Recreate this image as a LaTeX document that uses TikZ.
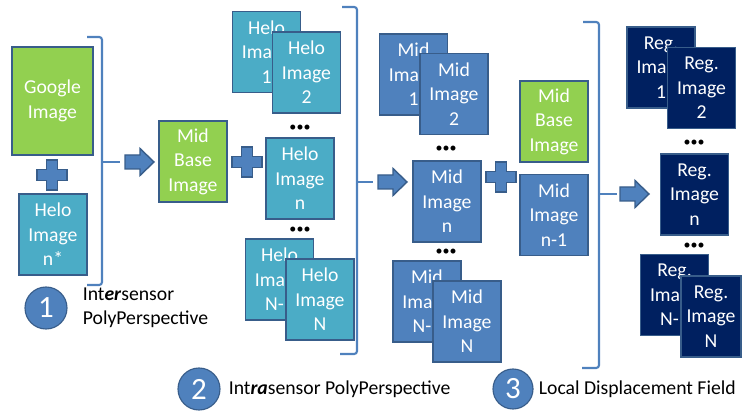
\documentclass[tikz,border=0pt]{standalone}
\usepackage{fontspec}
\setmainfont{Carlito}
\usetikzlibrary{positioning}

\definecolor{leaf}{HTML}{92D050}
\definecolor{aqua}{HTML}{4BACC6}
\definecolor{steel}{HTML}{4F81BD}
\definecolor{navy}{HTML}{002060}
\definecolor{edge}{HTML}{385D8A}

\tikzset{
    plussign/.pic={
        \draw[solid shape] (-5.5,-15) -- (5.5,-15) -- (5.5,-5.5) -- (15,-5.5) -- (15,5.5) -- (5.5,5.5)
            -- (5.5,15) -- (-5.5,15) -- (-5.5,5.5) -- (-15,5.5) -- (-15,-5.5) -- (-5.5,-5.5) -- cycle;
    },
    blockarrow/.pic={
        \draw[solid shape] (-14.5,-7) -- (0.5,-7) -- (0.5,-13.5) -- (14.5,0) -- (0.5,13.5) -- (0.5,7)
            -- (-14.5,7) -- cycle;
    }
}

\begin{document}
\begin{tikzpicture}[
        x=0.025cm, y=-0.025cm,
        img/.style={draw=edge, line width=1.2pt, fill=#1, text=white, minimum width=1.7cm,
            minimum height=2.025cm, inner sep=0pt, align=center, font=\fontsize{14}{17.5}\selectfont},
        more/.style={inner sep=0pt, font=\fontsize{10}{10}\selectfont},
        solid shape/.style={fill=steel, draw=edge, line width=1pt},
        brace/.style={draw=steel, line width=1.5pt, rounded corners=2pt},
        numcircle/.style={circle, fill=steel, draw=edge, line width=0.8pt, minimum size=1.05cm,
            inner sep=0pt, text=white, font=\fontsize{22}{22}\selectfont},
        caption/.style={inner sep=0pt, align=left, font=\fontsize{14}{17}\selectfont}
    ]
\useasboundingbox (0,0) rectangle (742,411);

% Stage 1: intersensor inputs
\node[img=leaf, minimum width=2.025cm, minimum height=2.7cm] (G) at (52.5,101) {Google\\Image};
\pic at (52,175) {plussign};
\node[img=aqua] (H0) at (53,234.5) {Helo\\Image\\n*};
\draw[brace] (87,37) -| (102,285) -- (87,285);
\draw[brace] (102,162) -- (120,162);
\pic at (139.5,162) {blockarrow};

% Stage 2: base image against every helo image
\node[img=leaf] (B1) at (193,161.5) {Mid\\Base\\Image};
\pic at (247,162) {plussign};
\node[img=aqua] (H1) at (266.5,52) {Helo\\Image\\1};
\node[img=aqua] (H2) at (306.5,72.5) {Helo\\Image\\2};
\node[more] (hd1) at (300,128) {•••};
\node[img=aqua] (Hn) at (300,178.5) {Helo\\Image\\n};
\node[more] (hd2) at (300,230) {•••};
\node[img=aqua] (HM) at (279.5,279.5) {Helo\\Image\\N-1};
\node[img=aqua] (HN) at (320,299.5) {Helo\\Image\\N};
\draw[brace] (342,7) -| (357,354) -- (340,354);
\draw[brace] (357,182) -- (373,182);
\pic at (392.5,182) {blockarrow};

% Stage 3: mid images against the previous one
\node[img=steel] (M1) at (413.5,74.5) {Mid\\Image\\1};
\node[img=steel] (M2) at (454,94) {Mid\\Image\\2};
\node[more] (md1) at (446,149) {•••};
\node[img=steel] (Mn) at (447,201.5) {Mid\\Image\\n};
\node[more] (md2) at (446,252) {•••};
\node[img=steel] (MM) at (427,301.5) {Mid\\Image\\N-1};
\node[img=steel] (MN) at (467,321.5) {Mid\\Image\\N};
\pic at (501,177) {plussign};
\node[img=leaf] (B2) at (554,121.5) {Mid\\Base\\Image};
\node[img=steel] (Mp) at (554,215) {Mid\\Image\\n-1};
\draw[brace] (583,22) -| (599,368) -- (582,368);
\draw[brace] (599,194) -- (617,194);
\pic at (634.5,194) {blockarrow};

% Registered output
\node[img=navy] (R1) at (661,67.5) {Reg.\\Image\\1};
\node[img=navy] (R2) at (701.5,88) {Reg.\\Image\\2};
\node[more] (rd1) at (694,143) {•••};
\node[img=navy] (Rn) at (694.5,194.5) {Reg.\\Image\\n};
\node[more] (rd2) at (694,246) {•••};
\node[img=navy] (RM) at (674.5,295) {Reg.\\Image\\N-1};
\node[img=navy, minimum width=1.5cm] (RN) at (711,316.5) {Reg.\\Image\\N};

% Step markers
\node[numcircle] (c1) at (46,308) {1};
\node[caption, right=0.375cm of c1] (t1) {Int\textbf{\textit{er}}sensor\\PolyPerspective};
\node[numcircle] (c2) at (199,389) {2};
\node[caption, right=0.2cm of c2] (t2) {Int\textbf{\textit{ra}}sensor PolyPerspective};
\node[numcircle, minimum size=1cm] (c3) at (513,389) {3};
\node[caption, right=0.125cm of c3] (t3) {Local Displacement Field};
\end{tikzpicture}
\end{document}
